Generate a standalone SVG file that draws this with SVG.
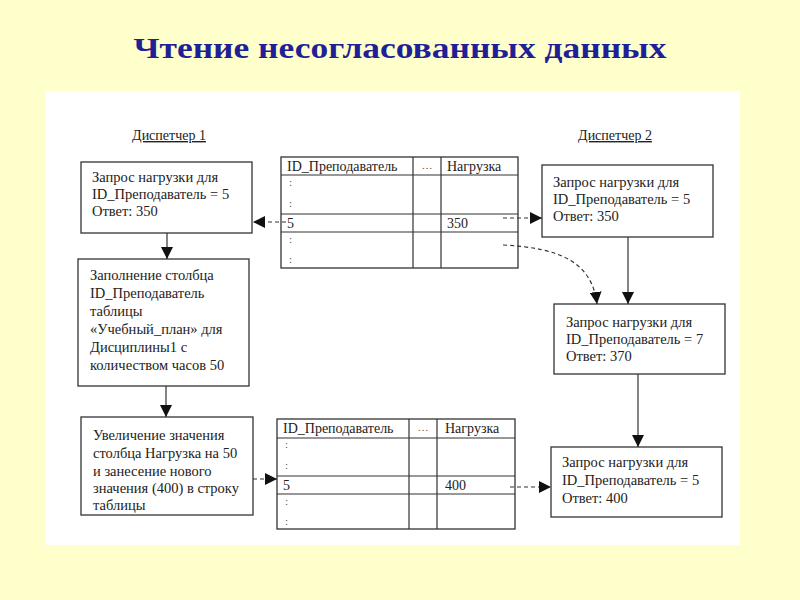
<svg xmlns="http://www.w3.org/2000/svg" width="800" height="600" viewBox="0 0 800 600">
<defs>
<style>
.t{font-family:"Liberation Serif","Times New Roman",serif;font-size:14.5px;fill:#222}
.tt{font-family:"Liberation Serif","Times New Roman",serif;font-size:14px;fill:#222}
.box{fill:#fff;stroke:#333;stroke-width:1.3}
.ln{stroke:#333;stroke-width:1.2;fill:none}
.dash{stroke:#333;stroke-width:1.2;fill:none;stroke-dasharray:4 3}
.dot{font-family:"Liberation Serif",serif;font-size:11px;fill:#555}
</style>
<marker id="ah" viewBox="0 0 12 12" refX="12" refY="6" markerWidth="12" markerHeight="12" markerUnits="userSpaceOnUse" orient="auto">
<path d="M0,0 L12,6 L0,12 z" fill="#111"/>
</marker>
</defs>
<rect width="800" height="600" fill="#FFFFCC"/>
<rect x="46" y="91" width="694" height="454" fill="#fff"/>
<text x="400" y="58" text-anchor="middle" textLength="533" lengthAdjust="spacingAndGlyphs" style="font-family:'Liberation Serif','Times New Roman',serif;font-size:30px;font-weight:bold;fill:#1f1f96">Чтение несогласованных данных</text>

<g id="label1"><text class="tt" x="169" y="140" text-anchor="middle" text-decoration="underline">Диспетчер 1</text></g>
<g id="label2"><text class="tt" x="615" y="140" text-anchor="middle" text-decoration="underline">Диспетчер 2</text></g>

<g id="box1">
<rect class="box" x="81" y="162" width="171" height="71"/>
<text class="t" x="92" y="182">Запрос нагрузки для</text>
<text class="t" x="92" y="199">ID_Преподаватель = 5</text>
<text class="t" x="92" y="216">Ответ: 350</text>
</g>

<g id="table1">
<rect class="box" x="281" y="157" width="237" height="111"/>
<path class="ln" d="M281,175 H518 M281,214 H518 M281,232 H518 M413,157 V268 M441,157 V268"/>
<text class="tt" x="287" y="171">ID_Преподаватель</text>
<text class="dot" x="427" y="169" text-anchor="middle">…</text>
<text class="tt" x="447" y="171">Нагрузка</text>
<text class="dot" x="289" y="186">:</text>
<text class="dot" x="289" y="207">:</text>
<text class="tt" x="287" y="228">5</text>
<text class="tt" x="447" y="228">350</text>
<text class="dot" x="289" y="243">:</text>
<text class="dot" x="289" y="263">:</text>
</g>

<g id="box2">
<rect class="box" x="542" y="165" width="171" height="72"/>
<text class="t" x="553" y="187">Запрос нагрузки для</text>
<text class="t" x="553" y="204">ID_Преподаватель = 5</text>
<text class="t" x="553" y="221">Ответ: 350</text>
</g>

<g id="box3">
<rect class="box" x="78" y="259" width="171" height="127"/>
<text class="t" x="90" y="280">Заполнение столбца</text>
<text class="t" x="90" y="298">ID_Преподаватель</text>
<text class="t" x="90" y="316">таблицы</text>
<text class="t" x="90" y="334">«Учебный_план» для</text>
<text class="t" x="90" y="352">Дисциплины1 с</text>
<text class="t" x="90" y="370">количеством часов 50</text>
</g>

<g id="box5">
<rect class="box" x="554" y="304" width="171" height="70"/>
<text class="t" x="566" y="327">Запрос нагрузки для</text>
<text class="t" x="566" y="344">ID_Преподаватель = 7</text>
<text class="t" x="566" y="361">Ответ: 370</text>
</g>

<g id="box4">
<rect class="box" x="81" y="417" width="172" height="98"/>
<text class="t" x="93" y="440">Увеличение значения</text>
<text class="t" x="93" y="458">столбца Нагрузка на 50</text>
<text class="t" x="93" y="476">и занесение нового</text>
<text class="t" x="93" y="493">значения (400) в строку</text>
<text class="t" x="93" y="510">таблицы</text>
</g>

<g id="table2">
<rect class="box" x="277" y="419" width="238" height="110"/>
<path class="ln" d="M277,438 H515 M277,476 H515 M277,494 H515 M409,419 V529 M437,419 V529"/>
<text class="tt" x="283" y="433">ID_Преподаватель</text>
<text class="dot" x="423" y="431" text-anchor="middle">…</text>
<text class="tt" x="445" y="433">Нагрузка</text>
<text class="dot" x="285" y="448">:</text>
<text class="dot" x="285" y="469">:</text>
<text class="tt" x="283" y="490">5</text>
<text class="tt" x="445" y="490">400</text>
<text class="dot" x="285" y="505">:</text>
<text class="dot" x="285" y="525">:</text>
</g>

<g id="box6">
<rect class="box" x="551" y="447" width="171" height="70"/>
<text class="t" x="562" y="467">Запрос нагрузки для</text>
<text class="t" x="562" y="485">ID_Преподаватель = 5</text>
<text class="t" x="562" y="503">Ответ: 400</text>
</g>

<g id="connectors">
<path class="ln" d="M167,233 V259" marker-end="url(#ah)"/>
<path class="ln" d="M166,386 V417" marker-end="url(#ah)"/>
<path class="ln" d="M628,237 V304" marker-end="url(#ah)"/>
<path class="ln" d="M638,374 V447" marker-end="url(#ah)"/>
<path class="dash" d="M286,222 H253" marker-end="url(#ah)"/>
<path class="dash" d="M503,218 H542" marker-end="url(#ah)"/>
<path class="dash" d="M503,245 C560,248 592,262 597,304" marker-end="url(#ah)"/>
<path class="dash" d="M253,479 H277" marker-end="url(#ah)"/>
<path class="dash" d="M510,487 H551" marker-end="url(#ah)"/>
</g>
</svg>
